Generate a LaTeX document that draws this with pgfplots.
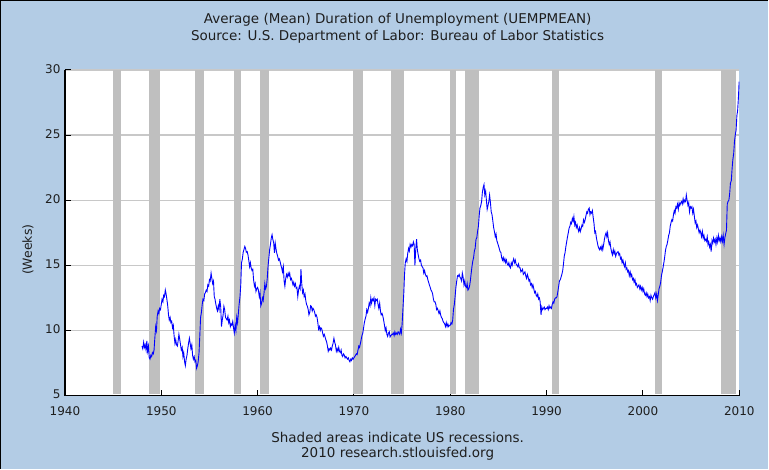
\documentclass[border=0pt]{standalone}
\usepackage{fontspec}
\setmainfont{DejaVu Sans}
\usepackage{pgfplots}
\pgfplotsset{compat=1.18}
\definecolor{bgblue}{RGB}{179,204,229}
\definecolor{recgray}{RGB}{191,191,191}
\definecolor{gridgray}{RGB}{200,200,200}
\definecolor{txt}{RGB}{30,30,30}
\begin{document}
\begin{tikzpicture}[x=1bp,y=1bp]
\fill[bgblue] (0,0) rectangle (769,469);
\draw[black, line width=1.5bp] (0.75,0) -- (0.75,468.25) -- (769,468.25);
\begin{axis}[
  at={(65bp,73bp)}, anchor=south west,
  scale only axis, width=675bp, height=326bp,
  xmin=1940, xmax=2010, ymin=5, ymax=30,
  axis x line*=bottom, axis y line*=left,
  axis line style={black, line width=1.3bp, -},
  axis background/.style={fill=white},
  xtick={1940,1950,...,2010}, ytick={5,10,...,30},
  ymajorgrids, grid style={gridgray, line width=1.3bp},
  tick align=inside, major tick length=6bp,
  tick style={black, line width=1bp},
  /pgf/number format/assume math mode=true,
  /pgf/number format/set thousands separator={},
  x tick label style={font=\fontsize{12bp}{14bp}\selectfont, text=txt, yshift=-7bp},
  y tick label style={font=\fontsize{12bp}{14bp}\selectfont, text=txt, xshift=-1bp, yshift=1bp},
]
% recession bands
\addplot[fill=recgray, draw=none] coordinates {(1945.0,5.1) (1945.0,30) (1945.8,30) (1945.8,5.1)} -- cycle;
\addplot[fill=recgray, draw=none] coordinates {(1948.75,5.1) (1948.75,30) (1949.9,30) (1949.9,5.1)} -- cycle;
\addplot[fill=recgray, draw=none] coordinates {(1953.5,5.1) (1953.5,30) (1954.45,30) (1954.45,5.1)} -- cycle;
\addplot[fill=recgray, draw=none] coordinates {(1957.55,5.1) (1957.55,30) (1958.3,30) (1958.3,5.1)} -- cycle;
\addplot[fill=recgray, draw=none] coordinates {(1960.25,5.1) (1960.25,30) (1961.2,30) (1961.2,5.1)} -- cycle;
\addplot[fill=recgray, draw=none] coordinates {(1969.94,5.1) (1969.94,30) (1970.91,30) (1970.91,5.1)} -- cycle;
\addplot[fill=recgray, draw=none] coordinates {(1973.85,5.1) (1973.85,30) (1975.23,30) (1975.23,5.1)} -- cycle;
\addplot[fill=recgray, draw=none] coordinates {(1980.0,5.1) (1980.0,30) (1980.6,30) (1980.6,5.1)} -- cycle;
\addplot[fill=recgray, draw=none] coordinates {(1981.54,5.1) (1981.54,30) (1983.0,30) (1983.0,5.1)} -- cycle;
\addplot[fill=recgray, draw=none] coordinates {(1990.6,5.1) (1990.6,30) (1991.33,30) (1991.33,5.1)} -- cycle;
\addplot[fill=recgray, draw=none] coordinates {(2001.3,5.1) (2001.3,30) (2002.0,30) (2002.0,5.1)} -- cycle;
\addplot[fill=recgray, draw=none] coordinates {(2008.09,5.1) (2008.09,30) (2009.68,30) (2009.68,5.1)} -- cycle;
% data
\addplot[blue, line width=0.9bp] table {
1948.00 8.8
1948.08 8.6
1948.17 9.1
1948.25 8.7
1948.33 8.9
1948.42 8.5
1948.50 9.2
1948.58 8.4
1948.67 8.8
1948.75 7.9
1948.83 7.8
1948.92 8.1
1949.00 8.0
1949.08 8.3
1949.17 8.2
1949.25 8.5
1949.33 9.4
1949.42 10.3
1949.50 10.0
1949.58 11.1
1949.67 11.5
1949.75 11.3
1949.83 11.7
1949.92 11.6
1950.00 12.0
1950.08 12.4
1950.17 12.2
1950.25 12.7
1950.33 12.6
1950.42 13.1
1950.50 12.8
1950.58 12.4
1950.67 11.9
1950.75 11.2
1950.83 10.8
1950.92 11.0
1951.00 10.6
1951.08 10.7
1951.17 10.2
1951.25 10.4
1951.33 9.6
1951.42 9.0
1951.50 9.3
1951.58 8.9
1951.67 8.8
1951.75 9.2
1951.83 9.7
1951.92 9.3
1952.00 8.9
1952.08 8.5
1952.17 8.7
1952.25 8.0
1952.33 8.3
1952.42 7.6
1952.50 7.3
1952.58 7.8
1952.67 8.1
1952.75 8.6
1952.83 9.0
1952.92 9.4
1953.00 9.0
1953.08 8.6
1953.17 8.9
1953.25 8.1
1953.33 7.8
1953.42 8.0
1953.50 7.6
1953.58 7.7
1953.67 7.1
1953.75 7.3
1953.83 7.6
1953.92 8.3
1954.00 9.6
1954.08 11.0
1954.17 11.4
1954.25 12.0
1954.33 12.4
1954.42 12.3
1954.50 12.8
1954.58 12.9
1954.67 13.1
1954.75 13.0
1954.83 13.5
1954.92 13.4
1955.00 13.9
1955.08 13.8
1955.17 14.4
1955.25 14.0
1955.33 13.6
1955.42 13.8
1955.50 12.6
1955.58 12.4
1955.67 12.0
1955.75 11.7
1955.83 11.5
1955.92 11.9
1956.00 11.6
1956.08 12.4
1956.17 11.8
1956.25 10.3
1956.33 10.8
1956.42 11.2
1956.50 11.85
1956.58 11.6
1956.67 11.0
1956.75 10.9
1956.83 10.8
1956.92 11.1
1957.00 10.6
1957.08 10.8
1957.17 10.3
1957.25 10.5
1957.33 10.4
1957.42 10.7
1957.50 10.2
1957.58 9.8
1957.67 10.4
1957.75 10.0
1957.83 11.0
1957.92 10.6
1958.00 11.3
1958.08 12.0
1958.17 12.6
1958.25 13.5
1958.33 15.2
1958.42 15.5
1958.50 16.0
1958.58 16.2
1958.67 16.45
1958.75 16.3
1958.83 16.0
1958.92 16.05
1959.00 15.8
1959.08 15.4
1959.17 14.9
1959.25 15.2
1959.33 14.8
1959.42 14.6
1959.50 14.7
1959.58 13.9
1959.67 13.4
1959.75 13.6
1959.83 13.0
1959.92 13.2
1960.00 13.3
1960.08 13.1
1960.17 12.6
1960.25 12.9
1960.33 11.9
1960.42 12.1
1960.50 12.5
1960.58 12.3
1960.67 12.9
1960.75 13.6
1960.83 13.2
1960.92 13.4
1961.00 14.0
1961.08 14.9
1961.17 15.6
1961.25 16.2
1961.33 16.6
1961.42 17.1
1961.50 17.35
1961.58 17.0
1961.67 16.7
1961.75 15.95
1961.83 16.7
1961.92 16.2
1962.00 15.9
1962.08 15.7
1962.17 15.4
1962.25 15.5
1962.33 15.3
1962.42 15.0
1962.50 14.8
1962.58 14.5
1962.67 14.9
1962.75 13.8
1962.83 13.4
1962.92 14.0
1963.00 14.3
1963.08 14.1
1963.17 14.4
1963.25 14.2
1963.33 14.4
1963.42 13.9
1963.50 14.0
1963.58 13.8
1963.67 13.5
1963.75 13.7
1963.83 13.4
1963.92 13.6
1964.00 13.25
1964.08 13.3
1964.17 12.6
1964.25 13.1
1964.33 13.4
1964.42 13.2
1964.50 14.7
1964.58 13.6
1964.67 12.9
1964.75 13.1
1964.83 12.6
1964.92 12.8
1965.00 12.3
1965.08 12.0
1965.17 11.85
1965.25 11.6
1965.33 11.2
1965.42 11.4
1965.50 11.9
1965.58 11.85
1965.67 11.5
1965.75 11.7
1965.83 11.6
1965.92 11.4
1966.00 11.1
1966.08 11.2
1966.17 11.0
1966.25 10.6
1966.33 10.1
1966.42 10.3
1966.50 10.0
1966.58 10.2
1966.67 10.1
1966.75 9.8
1966.83 9.55
1966.92 9.7
1967.00 9.5
1967.08 9.3
1967.17 9.1
1967.25 8.8
1967.33 8.4
1967.42 8.6
1967.50 8.5
1967.58 8.65
1967.67 8.5
1967.75 8.8
1967.83 9.0
1967.92 9.4
1968.00 9.1
1968.08 8.9
1968.17 8.4
1968.25 8.6
1968.33 8.4
1968.42 8.7
1968.50 8.4
1968.58 8.3
1968.67 8.5
1968.75 8.1
1968.83 8.0
1968.92 8.2
1969.00 8.1
1969.08 7.9
1969.17 8.0
1969.25 7.9
1969.33 7.8
1969.42 7.9
1969.50 7.7
1969.58 7.6
1969.67 7.8
1969.75 7.7
1969.83 7.9
1969.92 7.8
1970.00 7.9
1970.08 8.0
1970.17 8.1
1970.25 8.2
1970.33 8.15
1970.42 8.5
1970.50 8.8
1970.58 8.7
1970.67 9.0
1970.75 9.3
1970.83 9.6
1970.92 9.8
1971.00 10.2
1971.08 10.6
1971.17 10.9
1971.25 11.1
1971.33 11.6
1971.42 11.4
1971.50 11.7
1971.58 12.1
1971.67 11.9
1971.75 12.5
1971.83 12.1
1971.92 12.4
1972.00 12.3
1972.08 12.5
1972.17 11.9
1972.25 12.4
1972.33 12.3
1972.42 12.4
1972.50 12.0
1972.58 11.7
1972.67 12.1
1972.75 11.5
1972.83 11.2
1972.92 11.3
1973.00 11.1
1973.08 10.8
1973.17 10.4
1973.25 10.0
1973.33 10.2
1973.42 9.7
1973.50 9.55
1973.58 9.8
1973.67 9.9
1973.75 9.5
1973.83 9.6
1973.92 9.7
1974.00 9.7
1974.08 9.8
1974.17 9.6
1974.25 9.9
1974.33 9.7
1974.42 9.8
1974.50 9.7
1974.58 9.9
1974.67 9.8
1974.75 9.7
1974.83 10.1
1974.92 9.8
1975.00 10.5
1975.08 11.6
1975.17 12.8
1975.25 14.3
1975.33 15.2
1975.42 15.5
1975.50 15.3
1975.58 15.9
1975.67 16.3
1975.75 16.1
1975.83 16.6
1975.92 16.4
1976.00 16.6
1976.08 16.5
1976.17 16.8
1976.25 16.6
1976.33 15.0
1976.42 16.3
1976.50 17.0
1976.58 16.2
1976.67 15.8
1976.75 15.5
1976.83 15.3
1976.92 15.4
1977.00 15.0
1977.08 14.9
1977.17 14.8
1977.25 14.4
1977.33 14.6
1977.42 14.3
1977.50 14.15
1977.58 14.2
1977.67 13.9
1977.75 13.7
1977.83 13.5
1977.92 13.3
1978.00 13.1
1978.08 13.0
1978.17 12.8
1978.25 12.4
1978.33 12.2
1978.42 12.2
1978.50 12.0
1978.58 11.6
1978.67 11.7
1978.75 11.5
1978.83 11.3
1978.92 11.5
1979.00 11.2
1979.08 11.0
1979.17 10.9
1979.25 10.7
1979.33 10.6
1979.42 10.5
1979.50 10.3
1979.58 10.6
1979.67 10.3
1979.75 10.5
1979.83 10.3
1979.92 10.4
1980.00 10.4
1980.08 10.6
1980.17 10.5
1980.25 10.8
1980.33 11.6
1980.42 12.0
1980.50 12.6
1980.58 13.3
1980.67 13.8
1980.75 14.2
1980.83 14.15
1980.92 14.3
1981.00 14.1
1981.08 14.0
1981.17 13.8
1981.25 14.4
1981.33 14.1
1981.42 13.5
1981.50 13.8
1981.58 13.4
1981.67 13.3
1981.75 13.6
1981.83 13.1
1981.92 13.2
1982.00 13.4
1982.08 13.8
1982.17 14.4
1982.25 14.9
1982.33 15.3
1982.42 15.6
1982.50 16.1
1982.58 16.3
1982.67 17.0
1982.75 17.1
1982.83 17.6
1982.92 18.0
1983.00 18.8
1983.08 19.4
1983.17 19.6
1983.25 19.9
1983.33 20.6
1983.42 21.0
1983.50 21.2
1983.58 20.4
1983.67 20.7
1983.75 20.0
1983.83 19.3
1983.92 19.6
1984.00 19.9
1984.08 20.4
1984.17 19.8
1984.25 19.1
1984.33 18.9
1984.42 18.4
1984.50 17.9
1984.58 17.6
1984.67 17.2
1984.75 17.4
1984.83 16.9
1984.92 16.7
1985.00 16.5
1985.08 16.3
1985.17 16.05
1985.25 16.0
1985.33 15.6
1985.42 15.4
1985.50 15.6
1985.58 15.3
1985.67 15.5
1985.75 15.2
1985.83 15.4
1985.92 15.1
1986.00 15.0
1986.08 15.2
1986.17 14.9
1986.25 14.8
1986.33 15.2
1986.42 15.0
1986.50 15.3
1986.58 15.5
1986.67 15.2
1986.75 15.4
1986.83 15.1
1986.92 15.0
1987.00 14.9
1987.08 15.1
1987.17 14.8
1987.25 14.8
1987.33 14.5
1987.42 14.6
1987.50 14.7
1987.58 14.3
1987.67 14.4
1987.75 14.5
1987.83 14.2
1987.92 14.0
1988.00 14.3
1988.08 14.1
1988.17 13.8
1988.25 13.9
1988.33 13.5
1988.42 13.6
1988.50 13.3
1988.58 13.5
1988.67 13.2
1988.75 12.9
1988.83 13.0
1988.92 12.7
1989.00 12.6
1989.08 12.8
1989.17 12.4
1989.25 12.5
1989.33 12.2
1989.42 11.2
1989.50 11.8
1989.58 11.6
1989.67 11.7
1989.75 11.8
1989.83 11.6
1989.92 11.7
1990.00 11.7
1990.08 11.8
1990.17 11.6
1990.25 11.9
1990.33 11.7
1990.42 11.8
1990.50 11.7
1990.58 12.0
1990.67 12.2
1990.75 12.1
1990.83 12.4
1990.92 12.5
1991.00 12.5
1991.08 12.6
1991.17 13.0
1991.25 13.4
1991.33 13.8
1991.42 13.9
1991.50 14.1
1991.58 14.3
1991.67 14.6
1991.75 15.1
1991.83 15.7
1991.92 16.0
1992.00 16.45
1992.08 16.8
1992.17 17.2
1992.25 17.5
1992.33 17.85
1992.42 18.0
1992.50 18.3
1992.58 18.2
1992.67 18.6
1992.75 18.4
1992.83 18.75
1992.92 18.1
1993.00 18.3
1993.08 17.9
1993.17 18.1
1993.25 17.8
1993.33 17.6
1993.42 17.9
1993.50 17.6
1993.58 17.8
1993.67 18.1
1993.75 18.0
1993.83 18.5
1993.92 18.3
1994.00 18.5
1994.08 18.8
1994.17 19.1
1994.25 19.0
1994.33 19.3
1994.42 19.4
1994.50 18.9
1994.58 19.1
1994.67 19.0
1994.75 19.2
1994.83 18.7
1994.92 18.2
1995.00 17.5
1995.08 17.6
1995.17 17.1
1995.25 16.8
1995.33 16.5
1995.42 16.3
1995.50 16.2
1995.58 16.4
1995.67 16.2
1995.75 16.5
1995.83 16.2
1995.92 16.6
1996.00 17.0
1996.08 17.3
1996.17 17.5
1996.25 17.2
1996.33 17.5
1996.42 16.9
1996.50 16.6
1996.58 16.8
1996.67 16.3
1996.75 16.0
1996.83 15.8
1996.92 16.2
1997.00 15.9
1997.08 16.1
1997.17 15.7
1997.25 15.9
1997.33 16.0
1997.42 16.05
1997.50 15.8
1997.58 15.9
1997.67 15.5
1997.75 15.6
1997.83 15.2
1997.92 15.4
1998.00 15.1
1998.08 14.9
1998.17 15.2
1998.25 14.7
1998.33 14.8
1998.42 14.5
1998.50 14.6
1998.58 14.2
1998.67 14.5
1998.75 14.15
1998.83 14.3
1998.92 13.9
1999.00 14.0
1999.08 13.7
1999.17 13.9
1999.25 13.5
1999.33 13.6
1999.42 13.3
1999.50 13.4
1999.58 13.5
1999.67 13.2
1999.75 13.4
1999.83 13.1
1999.92 13.3
2000.00 13.0
2000.08 13.2
2000.17 12.8
2000.25 12.7
2000.33 12.9
2000.42 12.6
2000.50 12.8
2000.58 12.5
2000.67 12.6
2000.75 12.3
2000.83 12.7
2000.92 12.5
2001.00 12.4
2001.08 12.6
2001.17 12.75
2001.25 12.9
2001.33 12.5
2001.42 12.8
2001.50 12.3
2001.58 12.7
2001.67 13.2
2001.75 13.4
2001.83 13.65
2001.92 14.2
2002.00 14.5
2002.08 14.8
2002.17 15.2
2002.25 15.6
2002.33 16.1
2002.42 16.45
2002.50 16.6
2002.58 16.9
2002.67 17.3
2002.75 17.5
2002.83 18.0
2002.92 18.3
2003.00 18.5
2003.08 18.4
2003.17 18.9
2003.25 19.2
2003.33 19.0
2003.42 19.5
2003.50 19.4
2003.58 19.7
2003.67 19.3
2003.75 19.8
2003.83 19.6
2003.92 19.8
2004.00 19.9
2004.08 19.7
2004.17 20.1
2004.25 19.8
2004.33 20.0
2004.42 19.9
2004.50 20.4
2004.58 20.0
2004.67 19.6
2004.75 19.8
2004.83 19.1
2004.92 19.5
2005.00 19.4
2005.08 19.5
2005.17 19.0
2005.25 19.3
2005.33 18.8
2005.42 18.25
2005.50 18.4
2005.58 17.9
2005.67 18.1
2005.75 17.8
2005.83 17.5
2005.92 17.7
2006.00 17.5
2006.08 17.2
2006.17 17.6
2006.25 17.1
2006.33 17.3
2006.42 16.9
2006.50 17.0
2006.58 16.85
2006.67 17.2
2006.75 16.6
2006.83 16.8
2006.92 16.4
2007.00 16.6
2007.08 16.05
2007.17 16.9
2007.25 16.7
2007.33 17.1
2007.42 16.8
2007.50 17.0
2007.58 16.6
2007.67 17.1
2007.75 16.8
2007.83 17.3
2007.92 16.9
2008.00 17.1
2008.08 16.8
2008.17 17.2
2008.25 16.85
2008.33 17.3
2008.42 16.6
2008.50 17.1
2008.58 17.4
2008.67 17.7
2008.75 19.7
2008.83 19.9
2008.92 20.0
2009.00 20.5
2009.08 21.3
2009.17 21.5
2009.25 22.4
2009.33 23.1
2009.42 23.6
2009.50 24.5
2009.58 25.0
2009.67 25.4
2009.75 26.5
2009.83 26.9
2009.92 28.0
2009.98 29.1
};
\end{axis}
\node[font=\fontsize{13.5bp}{16bp}\selectfont, text=txt] at (398,449) {Average (Mean) Duration of Unemployment (UEMPMEAN)};
\node[font=\fontsize{13.5bp}{16bp}\selectfont, text=txt] at (398,432) {Source: U.S. Department of Labor: Bureau of Labor Statistics};
\node[font=\fontsize{13.5bp}{16bp}\selectfont, text=txt] at (398,31) {Shaded areas indicate US recessions.};
\node[font=\fontsize{13.5bp}{16bp}\selectfont, text=txt] at (398,15) {2010 research.stlouisfed.org};
\node[rotate=90, font=\fontsize{12.5bp}{15bp}\selectfont, text=txt] at (28,219) {(Weeks)};
\end{tikzpicture}
\end{document}
